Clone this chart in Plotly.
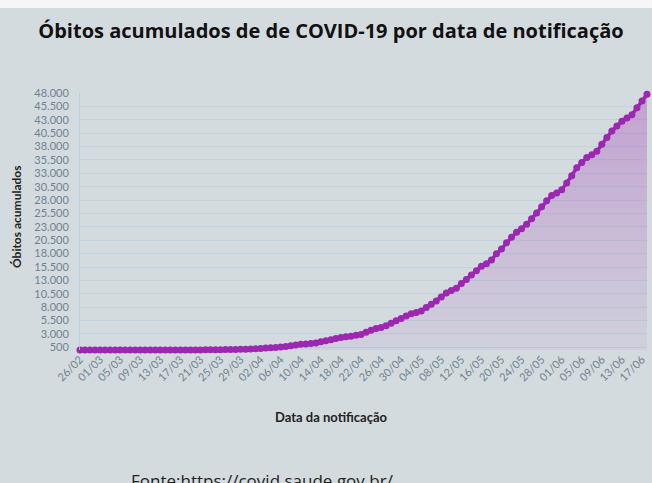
import datetime as dt
import plotly.graph_objects as go

start_date = dt.date(2020, 2, 26)
deaths = [0, 0, 0, 0, 0, 0, 0, 0, 0, 0, 0, 0, 0, 0, 0, 0, 0, 0, 0, 0,
          1, 4, 7, 11, 18, 25, 34, 46, 57, 77, 92, 111, 136, 159, 201,
          240, 299, 359, 431, 486, 553, 667, 800, 941, 1056, 1124, 1223, 1328, 1532, 1736,
          1924, 2141, 2347, 2462, 2575, 2741, 2906, 3313, 3670, 4016, 4205, 4543, 5017, 5466, 5901,
          6329, 6750, 7025, 7288, 7921, 8536, 9146, 9897, 10627, 11123, 11519, 12400, 13149, 13993, 14817,
          15633, 16118, 16792, 17971, 18859, 20047, 21048, 22013, 22666, 23473, 24512, 25598, 26754, 27878, 28834,
          29314, 29937, 31199, 32548, 34021, 35026, 35930, 36455, 37134, 38406, 39680, 40919, 41828, 42720, 43332,
          43959, 45241, 46510, 47748]
dates = [start_date + dt.timedelta(days=i) for i in range(len(deaths))]
tick_dates = dates[::4]
tick_labels = [d.strftime("%d/%m") for d in tick_dates]
y_ticks = list(range(500, 48001, 2500))
y_tick_labels = [f"{v:,}".replace(",", ".") for v in y_ticks]

title_text = "Óbitos acumulados de de COVID-19 por data de notificação"
y_title = "Óbitos acumulados"
x_title = "Data da notificação"
source_text = "Fonte:https://covid.saude.gov.br/"

BG = "#d3dbde"
PURPLE = "#9c27b0"

fig = go.Figure()
fig.add_trace(go.Scatter(
    x=dates, y=deaths, mode="lines+markers",
    line=dict(color=PURPLE, width=3.5),
    marker=dict(color=PURPLE, size=7),
    fill="tozeroy",
    fillgradient=dict(type="vertical", start=0, stop=48000,
                      colorscale=[[0, "rgba(156,39,176,0.06)"], [1, "rgba(156,39,176,0.32)"]]),
    cliponaxis=False, hoverinfo="skip", showlegend=False,
))

H = 483
top, bottom = 93, 350
ph = bottom - top

def py(p):
    return (bottom - p) / ph

fig.update_layout(
    width=652, height=483,
    paper_bgcolor=BG, plot_bgcolor=BG,
    margin=dict(l=80, r=5, t=top, b=H - bottom),
    title=dict(text=f"<b>{title_text}</b>", x=331 / 652, xanchor="center", y=1 - 31 / H, yanchor="middle",
               font=dict(family="Open Sans", size=20, color="#111")),
    xaxis=dict(range=[dates[0], dates[-1]], tickvals=tick_dates, ticktext=tick_labels,
               tickangle=-45, showgrid=False, zeroline=False, showline=False,
               tickfont=dict(family="Lato, Open Sans", size=11, color="#6f8291")),
    yaxis=dict(range=[0, 48000], tickvals=y_ticks, ticktext=y_tick_labels,
               showgrid=True, gridcolor="rgba(175,205,222,0.55)", gridwidth=1,
               zeroline=False, showline=True, linecolor="rgba(175,205,222,0.8)", linewidth=1,
               ticklabelstandoff=8,
               tickfont=dict(family="Lato, Open Sans", size=11, color="#6f8291")),
    shapes=[dict(type="rect", xref="paper", yref="paper", x0=-1, x1=2, y0=py(8), y1=py(-5),
                 fillcolor="#f6f6f6", line=dict(width=0), layer="below")],
    annotations=[
        dict(text=f"<b>{y_title}</b>", xref="paper", yref="paper", x=(16 - 80) / 567, y=py(217),
             textangle=-90, showarrow=False, xanchor="center", yanchor="middle",
             font=dict(family="Lato, Open Sans", size=12, color="#222")),
        dict(text=f"<b>{x_title}</b>", xref="paper", yref="paper", x=(331 - 80) / 567, y=py(417),
             showarrow=False, xanchor="center", yanchor="middle",
             font=dict(family="Lato, Open Sans", size=13, color="#222")),
        dict(text=source_text, xref="paper", yref="paper", x=(262 - 80) / 567, y=py(467),
             showarrow=False, xanchor="center", yanchor="top",
             font=dict(family="Open Sans", size=17, color="#222")),
    ],
)

fig.write_html("out.html", config={"displayModeBar": False})
with open("out.html", encoding="utf-8") as f:
    html = f.read()
html = html.replace("<head>", "<head><style>html,body{margin:0;padding:0;overflow:hidden;}</style>", 1)
with open("out.html", "w", encoding="utf-8") as f:
    f.write(html)
